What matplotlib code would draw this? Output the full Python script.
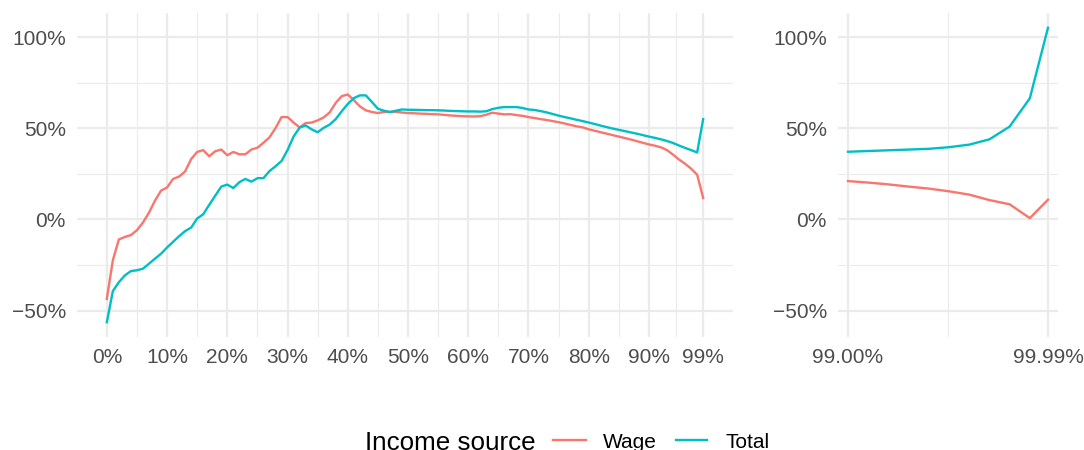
import numpy as np
import matplotlib
matplotlib.use("Agg")
import matplotlib.pyplot as plt
from matplotlib.lines import Line2D
from matplotlib.ticker import FixedLocator

plt.rcParams["font.family"] = ["Liberation Sans", "DejaVu Sans"]

# Percentile grid, bottom 99%
pct_low = list(range(0, 100))
wage_low = [-43.6, -22.4, -11.0, -9.6, -8.6, -5.9, -1.7, 3.7, 10.3, 15.8,
            17.5, 22.2, 23.5, 26.3, 33.1, 37.0, 38.0, 34.6, 37.4, 38.3,
            35.2, 37.0, 35.7, 35.7, 38.3, 39.3, 42.0, 45.0, 50.0, 56.1,
            56.1, 53.1, 50.5, 52.8, 53.1, 54.3, 55.9, 58.7, 63.9, 67.6,
            68.5, 65.4, 62.0, 59.8, 58.9, 58.3, 58.9, 58.9, 59.0, 58.6,
            58.3, 58.2, 58.0, 57.9, 57.7, 57.6, 57.3, 57.0, 56.8, 56.6,
            56.5, 56.4, 56.6, 57.4, 58.5, 58.0, 57.6, 57.7, 57.2, 56.8,
            56.1, 55.6, 55.0, 54.5, 53.9, 53.3, 52.6, 51.8, 51.0, 50.5,
            49.4, 48.6, 47.8, 47.0, 46.2, 45.4, 44.6, 43.8, 42.9, 42.0,
            41.1, 40.4, 39.5, 38.0, 35.5, 32.8, 30.5, 27.8, 24.5, 11.7]
total_low = [-56.4, -39.3, -34.4, -30.7, -28.3, -27.9, -27.0, -24.3, -21.5, -18.8,
             -15.4, -12.3, -9.2, -6.4, -4.5, 0.5, 2.8, 8.0, 13.0, 18.0,
             19.1, 17.2, 20.4, 22.2, 20.7, 22.6, 22.6, 26.5, 29.1, 32.0,
             38.0, 45.4, 50.3, 51.5, 49.4, 47.8, 50.2, 52.0, 55.0, 59.3,
             63.3, 66.5, 68.0, 68.0, 64.4, 60.7, 59.6, 58.9, 59.6, 60.3,
             60.1, 60.1, 60.0, 59.9, 59.9, 59.8, 59.7, 59.5, 59.4, 59.3,
             59.2, 59.2, 59.1, 59.3, 60.5, 61.2, 61.6, 61.6, 61.6, 61.1,
             60.3, 60.0, 59.4, 58.7, 57.8, 56.9, 56.1, 55.4, 54.6, 53.9,
             53.1, 52.3, 51.4, 50.6, 49.8, 49.1, 48.4, 47.7, 47.0, 46.2,
             45.4, 44.7, 43.9, 43.0, 41.9, 40.5, 39.2, 38.0, 36.7, 55.0]

# Top 1%
pct_top = [99.0, 99.1, 99.2, 99.3, 99.4, 99.5, 99.6, 99.7, 99.8, 99.9, 99.99]
wage_top = [21.0, 20.2, 19.2, 18.0, 16.9, 15.4, 13.6, 10.6, 8.3, 0.7, 10.8]
total_top = [37.1, 37.5, 37.9, 38.3, 38.7, 39.6, 41.0, 43.9, 50.9, 66.4, 105.1]

low_breaks = [0, 10, 20, 30, 40, 50, 60, 70, 80, 90, 99]
low_labels = ["0%", "10%", "20%", "30%", "40%", "50%", "60%", "70%", "80%", "90%", "99%"]
top_breaks = [99.0, 99.99]
top_labels = ["99.00%", "99.99%"]
y_breaks = [-50, 0, 50, 100]
y_labels = ["\u221250%", "0%", "50%", "100%"]

series_names = ["Wage", "Total"]
series_colors = ["#F8766D", "#00BFC4"]

W, H = 1084, 450
fig = plt.figure(figsize=(W / 100, H / 100), dpi=100)
fig.patch.set_facecolor("white")


def px_axes(x0, x1, y0, y1):
    return fig.add_axes([x0 / W, 1 - y1 / H, (x1 - x0) / W, (y1 - y0) / H])


def expand(lo, hi, f=0.05):
    d = (hi - lo) * f
    return lo - d, hi + d


all_y = wage_low + total_low + wage_top + total_top
ylim = expand(min(all_y), max(all_y))
y_minor = [(a + b) / 2 for a, b in zip(y_breaks[:-1], y_breaks[1:])]

grid_col = "#EBEBEB"
text_col = "#4D4D4D"
fs = 15


def style(ax, xbreaks, xlabels, xlim):
    ax.set_xlim(*xlim)
    ax.set_ylim(*ylim)
    for s in ax.spines.values():
        s.set_visible(False)
    xminor = [(a + b) / 2 for a, b in zip(xbreaks[:-1], xbreaks[1:])]
    for v in xbreaks:
        ax.axvline(v, color=grid_col, lw=1.6, zorder=0)
    for v in xminor:
        ax.axvline(v, color=grid_col, lw=0.8, zorder=0)
    for v in y_breaks:
        ax.axhline(v, color=grid_col, lw=1.6, zorder=0)
    for v in y_minor:
        ax.axhline(v, color=grid_col, lw=0.8, zorder=0)
    ax.xaxis.set_major_locator(FixedLocator(xbreaks))
    ax.set_xticklabels(xlabels)
    ax.yaxis.set_major_locator(FixedLocator(y_breaks))
    ax.set_yticklabels(y_labels)
    ax.tick_params(length=0, labelsize=fs, labelcolor=text_col)
    ax.tick_params(axis="x", pad=8)
    ax.tick_params(axis="y", pad=8)
    ax.set_facecolor("none")


ax1 = px_axes(77, 733, 13, 337)
style(ax1, low_breaks, low_labels, expand(min(pct_low), max(pct_low)))
ax1.plot(pct_low, wage_low, color=series_colors[0], lw=1.7, zorder=3)
ax1.plot(pct_low, total_low, color=series_colors[1], lw=1.7, zorder=3)

ax2 = px_axes(838, 1058, 13, 337)
style(ax2, top_breaks, top_labels, expand(min(pct_top), max(pct_top)))
ax2.plot(pct_top, wage_top, color=series_colors[0], lw=1.7, zorder=3)
ax2.plot(pct_top, total_top, color=series_colors[1], lw=1.7, zorder=3)

# Legend along the bottom edge
ky = 1 - 440 / H
fig.text(365 / W, 1 - 450 / H, "Income source", fontsize=18.7, color="black",
         ha="left", va="baseline")
key_spans = [(553, 586, 603), (676, 707, 725)]
for (k0, k1, tx), name, col in zip(key_spans, series_names, series_colors):
    fig.add_artist(Line2D([k0 / W, k1 / W], [ky, ky], color=col, lw=1.7,
                          transform=fig.transFigure))
    fig.text(tx / W, 1 - 448.4 / H, name, fontsize=fs, color="black",
             ha="left", va="baseline")

fig.savefig("out.png", dpi=100, facecolor="white")
